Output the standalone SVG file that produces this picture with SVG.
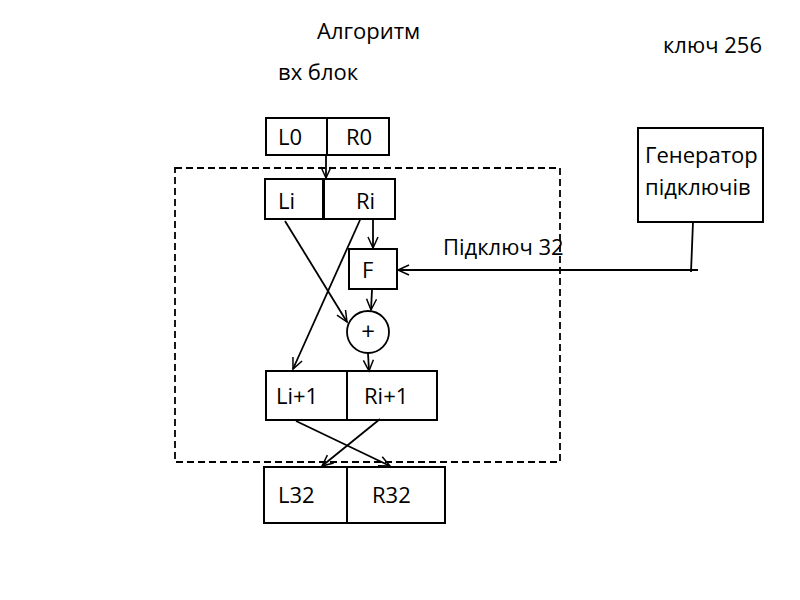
<svg xmlns="http://www.w3.org/2000/svg" width="800" height="600" viewBox="0 0 800 600">
<defs>
<marker id="arr" markerWidth="14" markerHeight="14" refX="12" refY="6" orient="auto" markerUnits="userSpaceOnUse">
<path d="M1,1 L12,6 L1,11" fill="none" stroke="#000" stroke-width="1.5"/>
</marker>
<style>
text{font-family:"Open Sans","Noto Sans",sans-serif;font-size:22px;fill:#000}
.box{fill:#fff;stroke:#000;stroke-width:2}
.ln{fill:none;stroke:#000;stroke-width:1.8}
.ar{fill:none;stroke:#000;stroke-width:1.8;marker-end:url(#arr)}
</style>
</defs>
<rect width="800" height="600" fill="#fff"/>
<text x="317" y="39">Алгоритм</text>
<text x="278" y="80">вх блок</text>
<text x="663" y="53">ключ 256</text>
<rect x="175" y="168" width="385" height="294" fill="none" stroke="#000" stroke-width="1.8" stroke-dasharray="7,4"/>
<g id="L0R0">
<rect class="box" x="266" y="118" width="61" height="37"/>
<rect class="box" x="327" y="118" width="62" height="37"/>
<text x="278" y="145">L0</text>
<text x="346" y="145">R0</text>
</g>
<g id="LiRi">
<rect class="box" x="265" y="179" width="58" height="40"/>
<rect class="box" x="324" y="179" width="71" height="40"/>
<line x1="323.5" y1="179" x2="323.5" y2="219" stroke="#000" stroke-width="3"/>
<text x="278" y="209">Li</text>
<text x="356" y="209">Ri</text>
</g>
<g id="F">
<rect class="box" x="349" y="249" width="48" height="40"/>
<text x="362" y="278">F</text>
</g>
<g id="plus">
<circle cx="368" cy="332" r="21" fill="#fff" stroke="#000" stroke-width="1.8"/>
<text x="368" y="340" text-anchor="middle" style="font-size:24px">+</text>
</g>
<g id="Li1Ri1">
<rect class="box" x="266" y="371" width="81" height="49"/>
<rect class="box" x="347" y="371" width="90" height="49"/>
<text x="276" y="404">Li+1</text>
<text x="364" y="404">Ri+1</text>
</g>
<g id="L32R32">
<rect class="box" x="264" y="467" width="83" height="56"/>
<rect class="box" x="347" y="467" width="98" height="56"/>
<text x="278" y="503">L32</text>
<text x="372" y="503">R32</text>
</g>
<g id="gen">
<rect class="box" x="638" y="128" width="125" height="94"/>
<text x="645" y="163">Генератор</text>
<text x="645" y="195">підключів</text>
</g>
<text x="443" y="255">Підключ 32</text>
<g id="connectors">
<line class="ar" x1="326" y1="155" x2="326" y2="178"/>
<line class="ar" x1="373" y1="220" x2="373" y2="248"/>
<line class="ar" x1="372" y1="290" x2="371" y2="310"/>
<line class="ar" x1="285" y1="221" x2="347" y2="322"/>
<line class="ar" x1="360" y1="220" x2="293" y2="369"/>
<line class="ar" x1="368" y1="353" x2="369" y2="371"/>
<line class="ar" x1="296" y1="421" x2="390" y2="466"/>
<line class="ar" x1="380" y1="419" x2="322" y2="466"/>
<line class="ln" x1="693" y1="222" x2="691" y2="272"/>
<line class="ar" x1="698" y1="270" x2="398" y2="270"/>
</g>
</svg>
